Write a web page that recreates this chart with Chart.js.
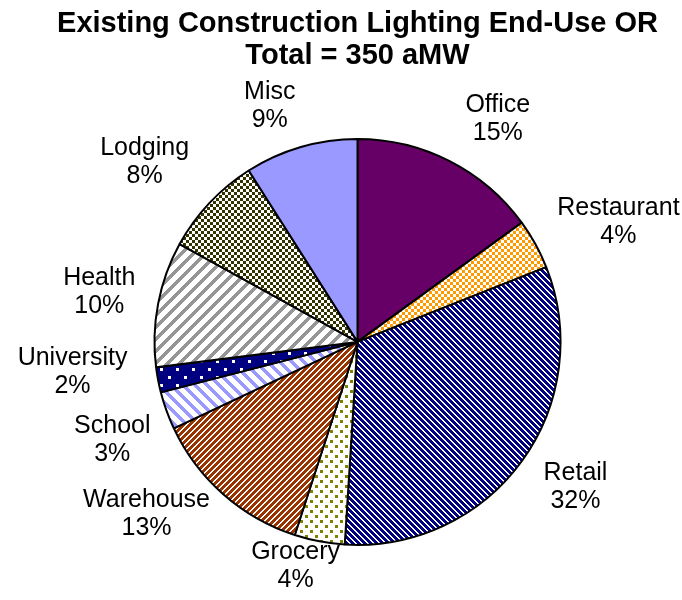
<!DOCTYPE html>
<html>
<head>
<meta charset="utf-8">
<script src="https://cdn.jsdelivr.net/npm/chart.js@4.4.1/dist/chart.umd.min.js"></script>
<style>
  html, body { margin: 0; padding: 0; background: #ffffff; }
  #c { display: block; }
</style>
</head>
<body>
<canvas id="c" width="682" height="600"></canvas>
<script>
// Building types and their share (%) of existing-construction lighting load
const categories = ['Office', 'Restaurant', 'Retail', 'Grocery', 'Warehouse',
                    'School', 'University', 'Health', 'Lodging', 'Misc'];
const sharePct = [15, 4, 32, 4, 13, 3, 2, 10, 8, 9];
const titleLines = ['Existing Construction Lighting End-Use OR', 'Total = 350 aMW'];

const canvas = document.getElementById('c');
const ctx = canvas.getContext('2d');

// Build a repeating pixel pattern: fn(x, y) says whether a pixel takes the foreground colour
function tilePattern(w, h, bg, fg, fn) {
  const t = document.createElement('canvas');
  t.width = w; t.height = h;
  const g = t.getContext('2d');
  g.fillStyle = bg;
  g.fillRect(0, 0, w, h);
  g.fillStyle = fg;
  for (let y = 0; y < h; y++) {
    for (let x = 0; x < w; x++) {
      if (fn(x, y)) g.fillRect(x, y, 1, 1);
    }
  }
  return ctx.createPattern(t, 'repeat');
}

const fills = [
  '#660066',                                                                     // Office
  tilePattern(6, 6, '#ffffff', '#FF9900', (x, y) => (x < 3) === (y < 3)),        // Restaurant
  tilePattern(6, 6, '#ffffff', '#000080', (x, y) => ((x - y + 12) % 6) < 4),     // Retail
  tilePattern(10, 10, '#ffffff', '#808000', (x, y) =>
      (x < 3 && y < 3) || (x >= 5 && x < 8 && y >= 5 && y < 8)),                 // Grocery
  tilePattern(6, 6, '#ffffff', '#993300', (x, y) => ((x + y) % 6) < 4),          // Warehouse
  tilePattern(12, 12, '#ffffff', '#9999FF', (x, y) => ((x - y + 24) % 12) < 5),  // School
  tilePattern(16, 16, '#000080', '#ffffff', (x, y) =>
      (x < 3 && y < 3) || (x >= 8 && x < 11 && y >= 8 && y < 11)),               // University
  tilePattern(12, 12, '#ffffff', '#969696', (x, y) => ((x + y) % 12) < 5),       // Health
  tilePattern(6, 6, '#ffffff', '#333300', (x, y) => (x < 3) === (y < 3)),        // Lodging
  '#9999FF'                                                                      // Misc
];

// Two-line "name / percent" labels set outside each slice: the label box hangs
// off a point on the slice bisector, leaning away from the pie.
const outsideLabels = {
  id: 'outsideLabels',
  afterDatasetsDraw(chart, args, opts) {
    const c = chart.ctx;
    const meta = chart.getDatasetMeta(0);
    const values = chart.data.datasets[0].data;
    const total = values.reduce((a, b) => a + b, 0);
    const clamp = v => Math.max(-1, Math.min(1, v));
    c.save();
    c.font = opts.size + 'px ' + opts.family;
    c.fillStyle = opts.color;
    c.textAlign = 'center';
    c.textBaseline = 'middle';
    meta.data.forEach((arc, i) => {
      const p = arc.getProps(['x', 'y', 'startAngle', 'endAngle', 'outerRadius'], true);
      const mid = (p.startAngle + p.endAngle) / 2;
      const lines = [chart.data.labels[i], Math.round(values[i] / total * 100) + '%'];
      const w = Math.max(...lines.map(l => c.measureText(l).width));
      const h = lines.length * opts.lineHeight;
      const dx = Math.cos(mid), dy = Math.sin(mid);
      const d = p.outerRadius + opts.gap;
      const shift = (opts.nudge && opts.nudge[i]) || [0, 0];
      const cx = p.x + dx * d + clamp(dx * 2) * w / 2 + shift[0];
      const cy = p.y + dy * d + clamp(dy * 2) * h / 2 + shift[1];
      lines.forEach((l, k) => {
        c.fillText(l, cx, cy + (k - (lines.length - 1) / 2) * opts.lineHeight);
      });
    });
    c.restore();
  }
};

new Chart(ctx, {
  type: 'pie',
  data: {
    labels: categories,
    datasets: [{
      data: sharePct,
      backgroundColor: fills,
      borderColor: '#000000',
      borderWidth: 2,
      radius: 203
    }]
  },
  options: {
    responsive: false,
    animation: false,
    layout: { padding: { left: 33, right: 0, top: 0, bottom: 55 } },
    plugins: {
      legend: { display: false },
      tooltip: { enabled: false },
      title: {
        display: true,
        text: titleLines,
        color: '#000000',
        font: { family: '"Liberation Sans", Arial, sans-serif', size: 29, weight: 'bold', lineHeight: 1.1 },
        padding: { top: 8, bottom: 67 }
      },
      outsideLabels: {
        family: '"Liberation Sans", Arial, sans-serif',
        size: 25,
        lineHeight: 28,
        color: '#000000',
        gap: 17,
        nudge: [[11, 1], [7, 13], [8, -12], [-4, -20], [-2, -21],
                [0, 5], [-14, -22], [-6, 2], [-8, -1], [-12, 3]]
      }
    }
  },
  plugins: [outsideLabels]
});
</script>
</body>
</html>
